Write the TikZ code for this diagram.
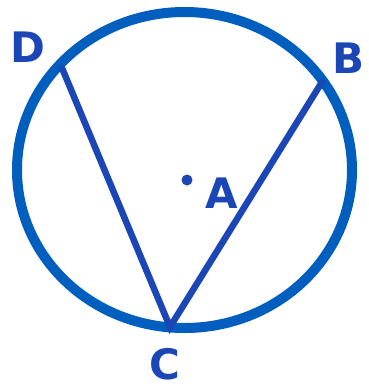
\documentclass[tikz,border=0pt]{standalone}
\usepackage{fontspec}
\setsansfont{DejaVu Sans}
\usepackage{tikz}
\usetikzlibrary{positioning}
\definecolor{RingBlue}{RGB}{0,94,190}
\definecolor{PenBlue}{RGB}{26,71,181}
\tikzset{
  ring/.style={draw=RingBlue, line width=10pt},
  chord/.style={draw=PenBlue, line width=6.5pt, line cap=round},
  letter/.style={inner sep=0pt, text=PenBlue, text depth=0pt,
                 font=\sffamily\bfseries\fontsize{42}{42}\selectfont},
  centre/.style={circle, fill=PenBlue, inner sep=0pt, minimum size=11pt},
}
\begin{document}
\begin{tikzpicture}[x=1pt, y=-1pt]
    \useasboundingbox (0,0) rectangle (368,391);
    %% the circle
    \draw[ring] (184.5,170) ellipse [x radius=167.5, y radius=158];
    %% points on the circle
    \coordinate (D) at (62,68);
    \coordinate (B) at (322,82);
    \coordinate (C) at (170,327);
    %% the two chords
    \draw[chord] (D) -- (C) -- (B);
    %% centre
    \node[centre] (A) at (187,180) {};
    %% labels
    \node[letter] (labD) at (28,47)  {D};
    \node[letter] (labB) at (349,58) {B};
    \node[letter] (labC) at (165,364) {C};
    \node[letter] (labA) at (222,193) {A};
  \end{tikzpicture}
\end{document}
